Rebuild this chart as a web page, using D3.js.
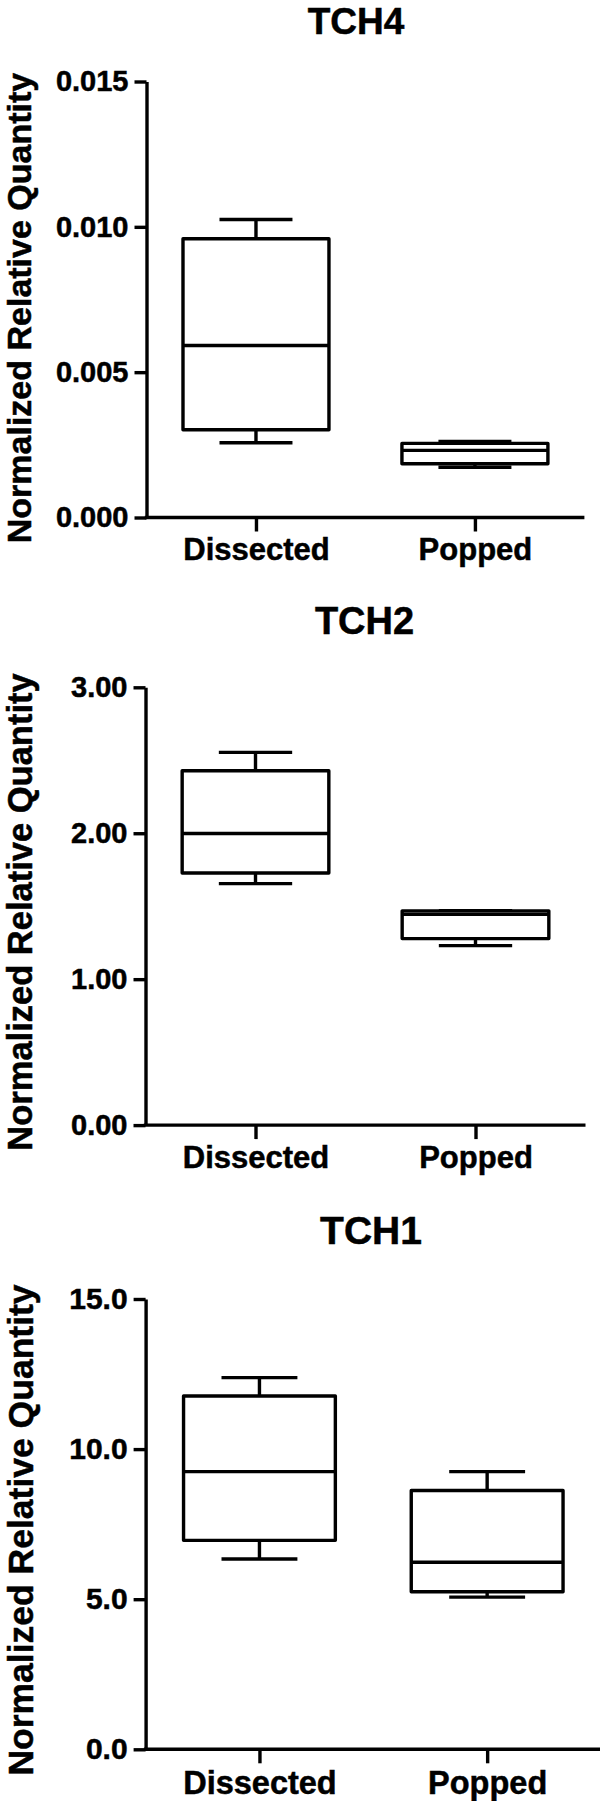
<!DOCTYPE html>
<html>
<head>
<meta charset="utf-8">
<script src="https://cdn.jsdelivr.net/npm/d3@7"></script>
<style>
  html, body { margin: 0; padding: 0; background: #fff; }
  svg { display: block; }
  text { font-family: Arial, "Liberation Sans", sans-serif; font-weight: bold; fill: #000;
         stroke: #000; stroke-width: 0.5px; }
</style>
</head>
<body>
<script>
// ---- data ----
const categories = ["Dissected", "Popped"];
const titles = ["TCH4", "TCH2", "TCH1"];
const yAxisTitle = "Normalized Relative Quantity";

// five-number summaries: [whisker low, Q1, median, Q3, whisker high]
const tch4Dissected = [0.00257, 0.00302, 0.00592, 0.00959, 0.01025];
const tch4Popped    = [0.00173, 0.00185, 0.00231, 0.00255, 0.00262];
const tch2Dissected = [1.655, 1.728, 1.998, 2.428, 2.554];
const tch2Popped    = [1.230, 1.278, 1.445, 1.468, 1.470];
const tch1Dissected = [6.34, 6.96, 9.25, 11.77, 12.38];
const tch1Popped    = [5.07, 5.25, 6.23, 8.62, 9.25];

const tch4Ticks = [0, 0.005, 0.010, 0.015];
const tch2Ticks = [0, 1, 2, 3];
const tch1Ticks = [0, 5, 10, 15];
const tch4Format = ".3f";
const tch2Format = ".2f";
const tch1Format = ".1f";

// ---- layout ----
const W = 600, H = 1801;
const svg = d3.select("body").append("svg").attr("width", W).attr("height", H);

const panels = [
  { title: titles[0], boxes: [tch4Dissected, tch4Popped], ticks: tch4Ticks, fmt: tch4Format,
    left: 146.5, right: 584.4, top: 81.5, bottom: 517.5,
    titleX: 356, titleY: 33.5, titleSize: 37, tickSize: 29, xlabSize: 31,
    ylabSize: 34, ylabCenter: 308, ylabX: 31, xlabOffset: 42 },
  { title: titles[1], boxes: [tch2Dissected, tch2Popped], ticks: tch2Ticks, fmt: tch2Format,
    left: 145.5, right: 585.5, top: 687.3, bottom: 1125.1,
    titleX: 364.5, titleY: 634.4, titleSize: 38, tickSize: 29, xlabSize: 31,
    ylabSize: 34.5, ylabCenter: 912, ylabX: 31.5, xlabOffset: 43 },
  { title: titles[2], boxes: [tch1Dissected, tch1Popped], ticks: tch1Ticks, fmt: tch1Format,
    left: 145.6, right: 601, top: 1299, bottom: 1749.3,
    titleX: 371, titleY: 1244, titleSize: 39, tickSize: 30, xlabSize: 32.5,
    ylabSize: 35.5, ylabCenter: 1530, ylabX: 32.5, xlabOffset: 44.5 }
];

const LW = 3.4;

panels.forEach(p => {
  const g = svg.append("g");
  const y = d3.scaleLinear()
    .domain([p.ticks[0], p.ticks[p.ticks.length - 1]])
    .range([p.bottom, p.top]);
  const x = d3.scalePoint().domain(categories).range([p.left, p.right]).padding(0.5);
  const boxW = (p.right - p.left) / 3;
  const capW = boxW / 2;

  // title
  g.append("text")
    .attr("x", p.titleX).attr("y", p.titleY)
    .attr("text-anchor", "middle")
    .style("font-size", p.titleSize + "px")
    .text(p.title);

  // y axis title
  g.append("text")
    .attr("transform", `translate(${p.ylabX},${p.ylabCenter}) rotate(-90)`)
    .attr("text-anchor", "middle")
    .style("font-size", p.ylabSize + "px")
    .text(yAxisTitle);

  // y axis
  const yAx = g.append("g")
    .attr("transform", `translate(${p.left},0)`)
    .call(d3.axisLeft(y).tickValues(p.ticks).tickFormat(d3.format(p.fmt))
      .tickSize(12).tickSizeOuter(0).tickPadding(6));
  yAx.selectAll("path, line").attr("stroke", "#000").attr("stroke-width", LW);
  yAx.selectAll("text")
    .style("font-size", p.tickSize + "px")
    .attr("fill", "#000");
  yAx.attr("font-family", null).attr("font-size", null);

  // x axis
  const xAx = g.append("g")
    .attr("transform", `translate(0,${p.bottom})`)
    .call(d3.axisBottom(x).tickSize(14).tickSizeOuter(0));
  xAx.select(".domain").attr("d", `M${p.left - LW / 2},0H${p.right}`);
  xAx.selectAll("path, line").attr("stroke", "#000").attr("stroke-width", LW);
  xAx.selectAll("text")
    .attr("y", p.xlabOffset).attr("dy", 0)
    .style("font-size", p.xlabSize + "px")
    .attr("fill", "#000");
  xAx.attr("font-family", null).attr("font-size", null);

  // boxes
  const bg = g.append("g")
    .attr("fill", "none").attr("stroke", "#000").attr("stroke-width", LW)
    .attr("stroke-linejoin", "round");
  p.boxes.forEach((s, i) => {
    const cx = x(categories[i]);
    const [lo, q1, med, q3, hi] = s;
    // whisker stems
    bg.append("line").attr("x1", cx).attr("x2", cx).attr("y1", y(q3)).attr("y2", y(hi));
    bg.append("line").attr("x1", cx).attr("x2", cx).attr("y1", y(q1)).attr("y2", y(lo));
    // caps
    bg.append("line").attr("x1", cx - capW / 2).attr("x2", cx + capW / 2).attr("y1", y(hi)).attr("y2", y(hi));
    bg.append("line").attr("x1", cx - capW / 2).attr("x2", cx + capW / 2).attr("y1", y(lo)).attr("y2", y(lo));
    // box
    bg.append("rect")
      .attr("x", cx - boxW / 2).attr("width", boxW)
      .attr("y", y(q3)).attr("height", y(q1) - y(q3))
      .attr("fill", "#fff");
    // median
    bg.append("line").attr("x1", cx - boxW / 2).attr("x2", cx + boxW / 2).attr("y1", y(med)).attr("y2", y(med));
  });
});
</script>
</body>
</html>
